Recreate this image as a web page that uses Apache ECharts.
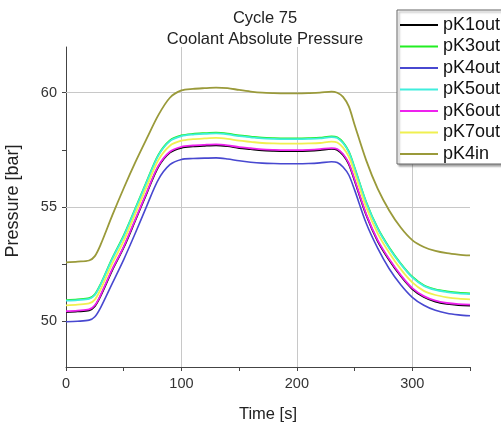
<!DOCTYPE html>
<html>
<head>
<meta charset="utf-8">
<script src="https://cdn.jsdelivr.net/npm/echarts@6/dist/echarts.min.js"></script>
<style>html,body{margin:0;padding:0;background:#fff;}#c{width:501px;height:428px;}</style>
</head>
<body>
<div id="c"></div>
<script>
const time = [0, 10, 20, 25, 30, 40, 50, 60, 70, 80, 90, 100, 110, 120, 130, 140, 150, 160, 170, 180, 190, 200, 210, 220, 230, 235, 240, 245, 250, 260, 270, 280, 290, 300, 310, 320, 330, 340, 350];

const pK1out = [50.4, 50.43, 50.48, 50.66, 51.11, 52.23, 53.23, 54.41, 55.61, 56.76, 57.38, 57.59, 57.65, 57.68, 57.7, 57.66, 57.58, 57.53, 57.48, 57.46, 57.45, 57.45, 57.46, 57.49, 57.54, 57.5, 57.28, 56.88, 56.16, 54.66, 53.51, 52.68, 51.98, 51.41, 51.06, 50.86, 50.76, 50.71, 50.69];
const pK3out = [50.93, 50.96, 51.01, 51.18, 51.63, 52.75, 53.76, 54.93, 56.13, 57.28, 57.91, 58.13, 58.2, 58.23, 58.25, 58.21, 58.13, 58.08, 58.03, 58.01, 58.0, 58.0, 58.01, 58.03, 58.09, 58.05, 57.83, 57.43, 56.73, 55.23, 54.08, 53.23, 52.53, 51.95, 51.58, 51.4, 51.31, 51.25, 51.22];
const pK4out = [49.98, 50.0, 50.05, 50.2, 50.6, 51.65, 52.7, 53.85, 55.05, 56.2, 56.85, 57.08, 57.12, 57.14, 57.15, 57.1, 57.02, 56.96, 56.92, 56.9, 56.89, 56.89, 56.9, 56.93, 56.98, 56.95, 56.75, 56.4, 55.75, 54.3, 53.2, 52.3, 51.6, 51.05, 50.7, 50.48, 50.35, 50.28, 50.24];
const pK5out = [50.9, 50.93, 50.98, 51.15, 51.6, 52.72, 53.72, 54.9, 56.1, 57.25, 57.88, 58.1, 58.17, 58.2, 58.22, 58.18, 58.1, 58.05, 58.0, 57.98, 57.97, 57.97, 57.98, 58.0, 58.06, 58.02, 57.8, 57.4, 56.7, 55.2, 54.05, 53.2, 52.5, 51.92, 51.55, 51.37, 51.28, 51.22, 51.19];
const pK6out = [50.44, 50.47, 50.52, 50.7, 51.15, 52.27, 53.27, 54.45, 55.65, 56.8, 57.42, 57.63, 57.69, 57.72, 57.74, 57.7, 57.62, 57.57, 57.52, 57.5, 57.49, 57.49, 57.5, 57.53, 57.58, 57.54, 57.32, 56.92, 56.2, 54.7, 53.55, 52.72, 52.02, 51.45, 51.1, 50.9, 50.8, 50.75, 50.73];
const pK7out = [50.7, 50.73, 50.78, 50.95, 51.4, 52.52, 53.52, 54.7, 55.9, 57.05, 57.68, 57.9, 57.97, 58.0, 58.02, 57.98, 57.9, 57.85, 57.8, 57.78, 57.77, 57.77, 57.78, 57.8, 57.86, 57.82, 57.6, 57.2, 56.5, 55.0, 53.85, 53.0, 52.28, 51.7, 51.33, 51.15, 51.05, 50.99, 50.96];
const pK4in = [52.58, 52.61, 52.66, 52.85, 53.35, 54.62, 55.82, 56.95, 58.0, 59.02, 59.78, 60.1, 60.17, 60.2, 60.22, 60.2, 60.12, 60.05, 60.0, 59.98, 59.97, 59.97, 59.98, 60.0, 60.05, 60.0, 59.82, 59.4, 58.6, 57.05, 55.8, 54.85, 54.1, 53.55, 53.25, 53.08, 52.98, 52.92, 52.88];

const seriesNames = ['pK1out', 'pK3out', 'pK4out', 'pK5out', 'pK6out', 'pK7out', 'pK4in'];
const seriesValues = [pK1out, pK3out, pK4out, pK5out, pK6out, pK7out, pK4in];
const seriesColors = ['#000000', '#22ee22', '#4848d0', '#40eedd', '#ee22ee', '#f0f050', '#9a9a3a'];

const xTickValues = [0, 50, 100, 150, 200, 250, 300, 350];
const xLabelValues = [0, 100, 200, 300];
const yTickValues = [50, 52.5, 55, 57.5, 60];
const yLabelValues = [50, 55, 60];
const xGridValues = [100, 200, 300];
const yGridValues = [55, 60];

const FONT = '"Liberation Sans", Arial, sans-serif';
const chart = echarts.init(document.getElementById('c'), null, {renderer: 'canvas'});

const series = seriesNames.map((name, i) => {
  const s = {
    name: name,
    type: 'line',
    data: time.map((t, j) => [t, seriesValues[i][j]]),
    symbol: 'none',
    smooth: 0.3,
    z: 3,
    lineStyle: {color: seriesColors[i], width: i === 2 ? 1.6 : 1.8},
    itemStyle: {color: seriesColors[i]}
  };
  if (i === 0) {
    s.markLine = {
      silent: true,
      symbol: 'none',
      z: 1,
      label: {show: false},
      lineStyle: {color: '#c8c8c8', type: 'solid', width: 1},
      data: xGridValues.map(v => ({xAxis: v})).concat(yGridValues.map(v => ({yAxis: v})))
    };
  }
  return s;
});

chart.setOption({
  animation: false,
  backgroundColor: '#ffffff',
  title: {
    text: 'Cycle 75\nCoolant Absolute Pressure',
    left: 265,
    top: 7.5,
    padding: 0,
    textAlign: 'center',
    textStyle: {fontFamily: FONT, fontSize: 16.5, fontWeight: 'normal', color: '#222', lineHeight: 21}
  },
  legend: {
    orient: 'vertical',
    left: 397,
    top: 10,
    padding: [5, 4, 0, 3],
    icon: 'rect',
    itemWidth: 38,
    itemHeight: 2,
    itemGap: 1.5,
    backgroundColor: '#ffffff',
    borderColor: '#666',
    borderWidth: 1,
    shadowColor: 'rgba(0,0,0,0.35)',
    shadowOffsetX: 2,
    shadowOffsetY: 2,
    shadowBlur: 2,
    textStyle: {fontFamily: FONT, fontSize: 18, color: '#111', lineHeight: 20},
    data: seriesNames
  },
  grid: {left: 66, right: 31, top: 47, bottom: 55, containLabel: false},
  xAxis: {
    type: 'value',
    min: 0,
    max: 350,
    interval: 50,
    name: 'Time [s]',
    nameLocation: 'middle',
    nameGap: 39,
    nameTextStyle: {fontFamily: FONT, fontSize: 16.5, color: '#222'},
    axisLine: {show: true, onZero: false, lineStyle: {color: '#444', width: 1}},
    axisTick: {show: true, length: 4, customValues: xTickValues, lineStyle: {color: '#444'}},
    axisLabel: {fontFamily: FONT, fontSize: 14.5, color: '#333', margin: 9, customValues: xLabelValues},
    splitLine: {show: false}
  },
  yAxis: {
    type: 'value',
    min: 48,
    max: 62,
    axisLine: {show: true, onZero: false, lineStyle: {color: '#444', width: 1}},
    axisTick: {show: true, length: 4, customValues: yTickValues, lineStyle: {color: '#444'}},
    axisLabel: {fontFamily: FONT, fontSize: 14.5, color: '#333', margin: 9, customValues: yLabelValues},
    splitLine: {show: false}
  },
  graphic: [{
    type: 'text',
    x: 13,
    y: 201,
    rotation: Math.PI / 2,
    style: {text: 'Pressure [bar]', fontFamily: FONT, fontSize: 18, fill: '#222', align: 'center', verticalAlign: 'middle'}
  }],
  series: series
});
</script>
</body>
</html>
